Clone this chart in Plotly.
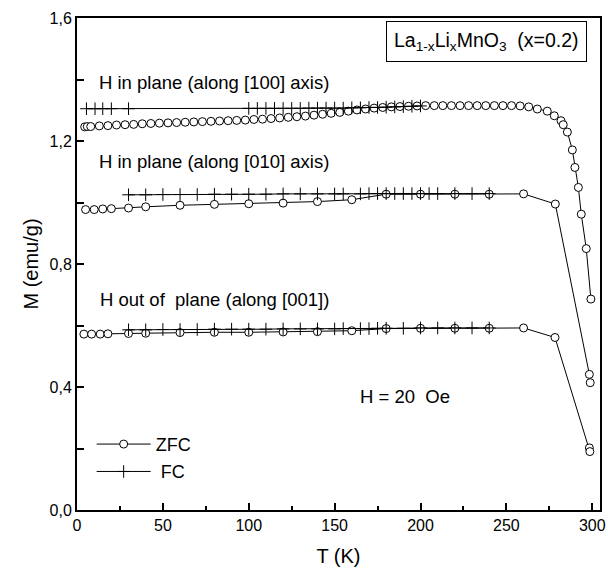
import plotly.graph_objects as go

# ---------------- data ----------------
T_zfc_100 = [4.5, 6, 8, 13, 18, 23, 28, 33, 38, 43, 48, 53, 58, 63, 68, 73, 78, 83, 88, 93,
             98, 103, 108, 113, 118, 123, 128, 133, 138, 143, 148, 153, 158, 163, 168, 173,
             178, 183, 188, 193, 198, 203, 208, 213, 218, 223, 228, 233, 238, 243, 248, 253,
             258, 263, 268, 273.8, 277.9, 281.8, 283.1, 285.5, 288.4, 289.9, 291.9, 293.6,
             296.5, 299.2]
M_zfc_100 = [1.246, 1.247, 1.247, 1.249, 1.250, 1.252, 1.253, 1.254, 1.256, 1.257, 1.258,
             1.259, 1.260, 1.261, 1.262, 1.263, 1.264, 1.265, 1.266, 1.267, 1.268, 1.270,
             1.271, 1.273, 1.275, 1.277, 1.279, 1.281, 1.284, 1.287, 1.290, 1.293, 1.297,
             1.301, 1.304, 1.307, 1.309, 1.311, 1.312, 1.313, 1.314, 1.315, 1.315, 1.315,
             1.315, 1.315, 1.315, 1.315, 1.315, 1.315, 1.315, 1.315, 1.314, 1.311, 1.304,
             1.297, 1.282, 1.266, 1.253, 1.229, 1.171, 1.114, 1.049, 0.962, 0.850, 0.686]

T_fc_100 = [5.5, 10.5, 15, 20, 30, 100, 105, 110, 115, 120, 125, 130, 135, 140, 145, 150,
            155, 160, 165, 170, 175, 180, 185, 190, 195, 200]
M_fc_100 = [1.305, 1.305, 1.305, 1.305, 1.305, 1.306, 1.306, 1.306, 1.306, 1.306, 1.306,
            1.306, 1.307, 1.307, 1.307, 1.307, 1.307, 1.308, 1.308, 1.309, 1.309, 1.310,
            1.311, 1.312, 1.313, 1.314]

T_zfc_010 = [5, 10, 15, 20, 30, 40, 60, 80, 100, 120, 140, 160, 180, 200, 220, 240, 260,
             278.5, 298.3, 298.8]
M_zfc_010 = [0.977, 0.977, 0.979, 0.980, 0.982, 0.986, 0.991, 0.994, 0.996, 0.998, 1.003,
             1.009, 1.027, 1.027, 1.027, 1.027, 1.028, 0.995, 0.441, 0.414]

T_fc_010 = [30, 40, 50, 60, 70, 80, 90, 100, 110, 120, 130, 140, 150, 155, 165, 170, 175,
            180, 185, 190, 195, 200, 205, 210, 220, 230, 240]
M_fc_010 = [1.025, 1.025, 1.026, 1.026, 1.026, 1.027, 1.027, 1.027, 1.027, 1.028, 1.028,
            1.028, 1.028, 1.028, 1.028, 1.029, 1.029, 1.029, 1.029, 1.029, 1.029, 1.029,
            1.029, 1.029, 1.029, 1.029, 1.029]

T_zfc_001 = [4, 8.5, 13.5, 18, 30, 40, 60, 80, 100, 120, 140, 160, 180, 200, 220, 240, 260,
             278.3, 298.3, 298.6]
M_zfc_001 = [0.572, 0.572, 0.572, 0.573, 0.574, 0.575, 0.577, 0.578, 0.578, 0.579, 0.580,
             0.583, 0.590, 0.591, 0.591, 0.591, 0.592, 0.561, 0.202, 0.190]

T_fc_001 = [30, 40, 50, 60, 70, 80, 90, 100, 110, 120, 130, 140, 150, 155, 165, 170, 175,
            180, 190, 200, 210, 220, 230, 240]
M_fc_001 = [0.586, 0.586, 0.587, 0.587, 0.587, 0.588, 0.588, 0.588, 0.588, 0.589, 0.589,
            0.589, 0.589, 0.590, 0.590, 0.590, 0.591, 0.591, 0.591, 0.592, 0.592, 0.592,
            0.592, 0.592]

x_ticks = [0, 50, 100, 150, 200, 250, 300]
y_ticks = [0.0, 0.4, 0.8, 1.2, 1.6]
y_ticklabels = ["0,0", "0,4", "0,8", "1,2", "1,6"]

NB = "\u00a0"
labels = ["H in plane (along [100] axis)", "H in plane (along [010] axis)",
          "H out of" + NB + " plane (along [001])", "H = 20" + NB + " Oe"]
label_T = [80, 80, 80, 191]
label_M = [1.389, 1.134, 0.686, 0.369]

# ---------------- figure ----------------
FONT = "Arial, Liberation Sans, sans-serif"
fig = go.Figure()

zfc_style = dict(mode="lines+markers", line=dict(color="black", width=1),
                 marker=dict(symbol="circle", size=8, color="white",
                             line=dict(color="black", width=1)))
fc_style = dict(mode="lines+markers", line=dict(color="black", width=1),
                marker=dict(symbol="cross-thin", size=9,
                            line=dict(color="black", width=1)))

for i, (T, M) in enumerate([(T_zfc_100, M_zfc_100), (T_zfc_010, M_zfc_010),
                            (T_zfc_001, M_zfc_001)]):
    fig.add_trace(go.Scatter(x=T, y=M, name="ZFC", legendgroup="ZFC",
                             showlegend=(i == 0), **zfc_style))
for i, (T, M) in enumerate([(T_fc_100, M_fc_100), (T_fc_010, M_fc_010),
                            (T_fc_001, M_fc_001)]):
    fig.add_trace(go.Scatter(x=T, y=M, name=NB + "FC", legendgroup="FC",
                             showlegend=(i == 0), **fc_style))

for txt, tx, my in zip(labels, label_T, label_M):
    fig.add_annotation(x=tx, y=my, xref="x", yref="y", text=txt, showarrow=False,
                       font=dict(family=FONT, size=18.5, color="black"))

fig.add_annotation(x=238.5, y=1.523, xref="x", yref="y",
                   text="La<sub>1-x</sub>Li<sub>x</sub>MnO<sub>3</sub>" + NB + " (x=0.2)",
                   showarrow=False, bordercolor="black", borderwidth=1, borderpad=7,
                   bgcolor="white", font=dict(family=FONT, size=19.5, color="black"))

fig.update_xaxes(range=[0, 304.5], tickvals=x_ticks, ticks="inside", ticklen=7,
                 tickwidth=1.5, tickcolor="black", showline=True, linecolor="black",
                 linewidth=2, mirror=True, showgrid=False, zeroline=False,
                 automargin=False,
                 minor=dict(tickmode="linear", tick0=25, dtick=50, ticks="inside",
                            ticklen=4, tickwidth=1.5, tickcolor="black", showgrid=False),
                 tickfont=dict(family=FONT, size=16, color="black"),
                 title=dict(text="T (K)", font=dict(family=FONT, size=20, color="black"),
                            standoff=16))
fig.update_yaxes(range=[0, 1.6], tickvals=y_ticks, ticktext=y_ticklabels, ticks="inside",
                 ticklen=7, tickwidth=1.5, tickcolor="black", showline=True,
                 linecolor="black", linewidth=2, mirror=True, showgrid=False,
                 zeroline=False, automargin=False,
                 minor=dict(tickmode="linear", tick0=0.2, dtick=0.4, ticks="inside",
                            ticklen=7, tickwidth=1.5, tickcolor="black", showgrid=False),
                 tickfont=dict(family=FONT, size=16, color="black"),
                 title=dict(text="M (emu/g)", font=dict(family=FONT, size=20, color="black"),
                            standoff=6))

fig.update_layout(
    width=608, height=570,
    margin=dict(l=77, r=8, t=18, b=60, autoexpand=False),
    plot_bgcolor="white", paper_bgcolor="white",
    showlegend=True,
    legend=dict(x=0.028, y=0.171, xanchor="left", yanchor="top", itemwidth=54,
                bgcolor="rgba(0,0,0,0)", tracegroupgap=1,
                font=dict(family=FONT, size=18, color="black")),
)

fig.write_html("out.html")
